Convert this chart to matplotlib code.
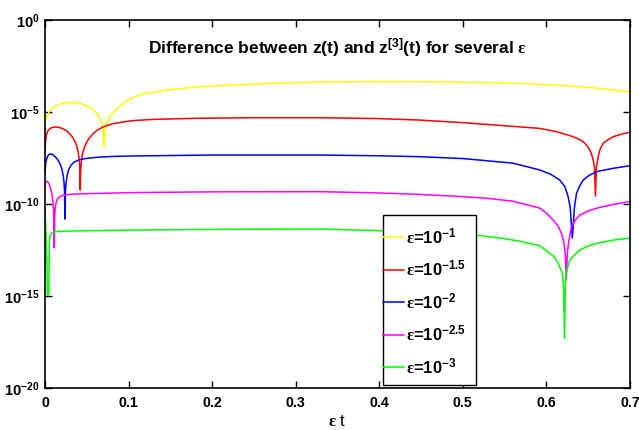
import numpy as np
import matplotlib
matplotlib.use("Agg")
import matplotlib.pyplot as plt
from matplotlib.patches import Rectangle

plt.rcParams['font.family'] = ['Liberation Sans', 'DejaVu Sans']
plt.rcParams['font.weight'] = 'bold'
plt.rcParams['mathtext.fontset'] = 'custom'
plt.rcParams['mathtext.rm'] = 'Liberation Serif'
plt.rcParams['mathtext.bf'] = 'Liberation Sans:bold'
plt.rcParams['mathtext.it'] = 'Liberation Sans:italic'

# values: eps*t and log10 of |z - z^[3]|
t_1 = [0, 0.001, 0.002, 0.004, 0.006, 0.009, 0.013, 0.018, 0.024, 0.030, 0.036, 0.042,
       0.048, 0.053, 0.058, 0.062, 0.065, 0.067, 0.0685, 0.0697, 0.0705, 0.0709, 0.0713,
       0.0722, 0.0735, 0.0755, 0.079, 0.084, 0.090, 0.097, 0.105, 0.12, 0.146, 0.18,
       0.225, 0.28, 0.329, 0.40, 0.46, 0.529, 0.58, 0.62, 0.66, 0.70]
log_d_1 = [-5.65, -5.45, -5.30, -5.08, -4.93, -4.78, -4.66, -4.57, -4.51, -4.49, -4.50,
           -4.54, -4.62, -4.72, -4.88, -5.06, -5.27, -5.47, -5.70, -6.00, -6.45, -6.89,
           -6.45, -6.00, -5.70, -5.45, -5.16, -4.90, -4.66, -4.42, -4.20, -4.00, -3.80,
           -3.65, -3.53, -3.43, -3.37, -3.35, -3.36, -3.40, -3.47, -3.56, -3.70, -3.90]

t_15 = [0, 0.0005, 0.001, 0.002, 0.004, 0.007, 0.011, 0.015, 0.020, 0.025, 0.029, 0.033,
        0.036, 0.038, 0.0398, 0.041, 0.0417, 0.0422, 0.0428, 0.0437, 0.045, 0.0475,
        0.051, 0.056, 0.062, 0.070, 0.080, 0.092, 0.105, 0.13, 0.185, 0.25, 0.329, 0.40,
        0.449, 0.50, 0.56, 0.592, 0.612, 0.632, 0.640, 0.644, 0.648, 0.652, 0.654, 0.656,
        0.6575, 0.6587, 0.6598, 0.662, 0.664, 0.668, 0.674, 0.680, 0.690, 0.70]
log_d_15 = [-7.23, -6.70, -6.45, -6.18, -5.98, -5.87, -5.82, -5.82, -5.88, -6.00, -6.15,
            -6.38, -6.62, -6.85, -7.20, -7.60, -8.10, -9.24, -8.10, -7.60, -7.25, -6.88,
            -6.55, -6.25, -6.00, -5.80, -5.65, -5.55, -5.47, -5.40, -5.34, -5.31, -5.31,
            -5.36, -5.44, -5.58, -5.78, -5.89, -6.07, -6.34, -6.50, -6.61, -6.80, -7.07,
            -7.30, -7.61, -8.00, -9.57, -8.00, -7.43, -7.05, -6.70, -6.50, -6.34, -6.20,
            -6.10]

t_2 = [0, 0.0005, 0.001, 0.002, 0.0035, 0.005, 0.007, 0.009, 0.012, 0.015, 0.018, 0.020,
       0.0218, 0.0228, 0.0234, 0.0239, 0.0245, 0.0252, 0.0265, 0.0285, 0.031, 0.035,
       0.041, 0.050, 0.065, 0.085, 0.105, 0.20, 0.329, 0.40, 0.449, 0.50, 0.56, 0.592,
       0.605, 0.616, 0.622, 0.626, 0.6285, 0.631, 0.6335, 0.636, 0.640, 0.644, 0.651,
       0.660, 0.680, 0.70]
log_d_2 = [-8.32, -7.95, -7.75, -7.55, -7.38, -7.30, -7.28, -7.32, -7.42, -7.58, -7.82,
           -8.07, -8.45, -8.85, -9.30, -10.82, -9.30, -8.85, -8.45, -8.12, -7.90, -7.72,
           -7.60, -7.52, -7.45, -7.41, -7.39, -7.34, -7.34, -7.38, -7.43, -7.53, -7.78,
           -8.15, -8.38, -8.70, -9.05, -9.60, -10.20, -11.85, -10.20, -9.42, -9.00, -8.70,
           -8.45, -8.24, -8.06, -7.92]

t_25 = [0, 0.0005, 0.001, 0.002, 0.003, 0.004, 0.0055, 0.007, 0.0085, 0.0097, 0.0105,
        0.0111, 0.0117, 0.0125, 0.014, 0.016, 0.020, 0.026, 0.040, 0.105, 0.20, 0.329,
        0.40, 0.449, 0.50, 0.529, 0.56, 0.592, 0.600, 0.608, 0.614, 0.618, 0.621, 0.6225,
        0.6238, 0.625, 0.6265, 0.630, 0.635, 0.640, 0.650, 0.660, 0.680, 0.70]
log_d_25 = [-9.05, -8.88, -8.80, -8.76, -8.78, -8.84, -8.98, -9.20, -9.50, -9.95, -10.60,
            -12.39, -10.60, -10.10, -9.82, -9.66, -9.55, -9.49, -9.45, -9.38, -9.34, -9.33,
            -9.40, -9.48, -9.60, -9.69, -9.85, -10.22, -10.50, -10.87, -11.20, -11.59,
            -12.10, -12.70, -14.13, -12.70, -12.10, -11.23, -10.85, -10.60, -10.38, -10.23,
            -10.02, -9.87]

t_3 = [0, 0.0007, 0.0014, 0.002, 0.0026, 0.003, 0.0045, 0.005, 0.0053, 0.006, 0.008,
       0.012, 0.03, 0.10, 0.20, 0.329, 0.401, 0.45, 0.517, 0.545, 0.568, 0.592, 0.604,
       0.610, 0.614, 0.619, 0.6205, 0.6216, 0.6227, 0.6235, 0.628, 0.634, 0.640, 0.650,
       0.660, 0.680, 0.70]
log_d_3 = [-10.27, -11.00, -11.90, -12.80, -13.80, -14.95, -14.95, -13.00, -12.00, -11.75,
           -11.58, -11.50, -11.47, -11.42, -11.38, -11.36, -11.45, -11.55, -11.70, -11.85,
           -12.02, -12.27, -12.68, -12.90, -13.22, -13.77, -14.40, -17.30, -14.40, -13.77,
           -13.04, -12.75, -12.50, -12.28, -12.14, -11.96, -11.86]

series = [(t_1, log_d_1, '#ffff00', '1'),
          (t_15, log_d_15, '#ff0000', '1.5'),
          (t_2, log_d_2, '#0000ff', '2'),
          (t_25, log_d_25, '#ff00ff', '2.5'),
          (t_3, log_d_3, '#00ff00', '3')]

x_ticks = [0, 0.1, 0.2, 0.3, 0.4, 0.5, 0.6, 0.7]
y_exps = [-20, -15, -10, -5, 0]

fig = plt.figure(figsize=(6.39, 4.30), dpi=100)
ax = fig.add_axes([0.0704, 0.0977, 0.9155, 0.8558])

for t, d, col, e in series:
    ax.semilogy(t, 10.0 ** np.array(d), color=col, lw=1.1,
                label=r'$\mathrm{ε}$=10$^{\mathbf{-' + e + '}}$')

ax.set_xlim(0, 0.7)
ax.set_ylim(1e-20, 1e0)
ax.set_xticks(x_ticks)
ax.set_xticklabels([('%g' % v) for v in x_ticks], fontsize=10.2)
ax.set_yticks([10.0 ** p for p in y_exps])
ax.set_yticklabels(['10$^{\\mathbf{%d}}$' % p for p in y_exps], fontsize=10.5)
ax.minorticks_off()
ax.tick_params(direction='in', top=True, right=True, length=5, width=1, pad=4)
ax.tick_params(axis='x', pad=6)
for s in ax.spines.values():
    s.set_linewidth(1.2)

ax.set_xlabel(r'$\mathrm{ε}$ t', fontsize=12, labelpad=3)
ax.text(0.5, 0.924, 'Difference between z(t) and z$^{\\mathbf{[3]}}$(t) for several $\\mathrm{ε}$',
        transform=ax.transAxes, ha='center', va='center', fontsize=12.5)

# legend box drawn as its own frame, entries placed inside it
ax.add_patch(Rectangle((0.578, 0.008), 0.159, 0.462, transform=ax.transAxes,
                       facecolor='white', edgecolor='black', lw=1.0, zorder=4))
leg = ax.legend(loc='center left', bbox_to_anchor=(0.578, 0.236), fontsize=12,
                frameon=False, borderaxespad=0, borderpad=0,
                handlelength=1.25, handletextpad=0.1, labelspacing=0.76)
leg.set_zorder(5)

fig.savefig('out.png', dpi=100)
